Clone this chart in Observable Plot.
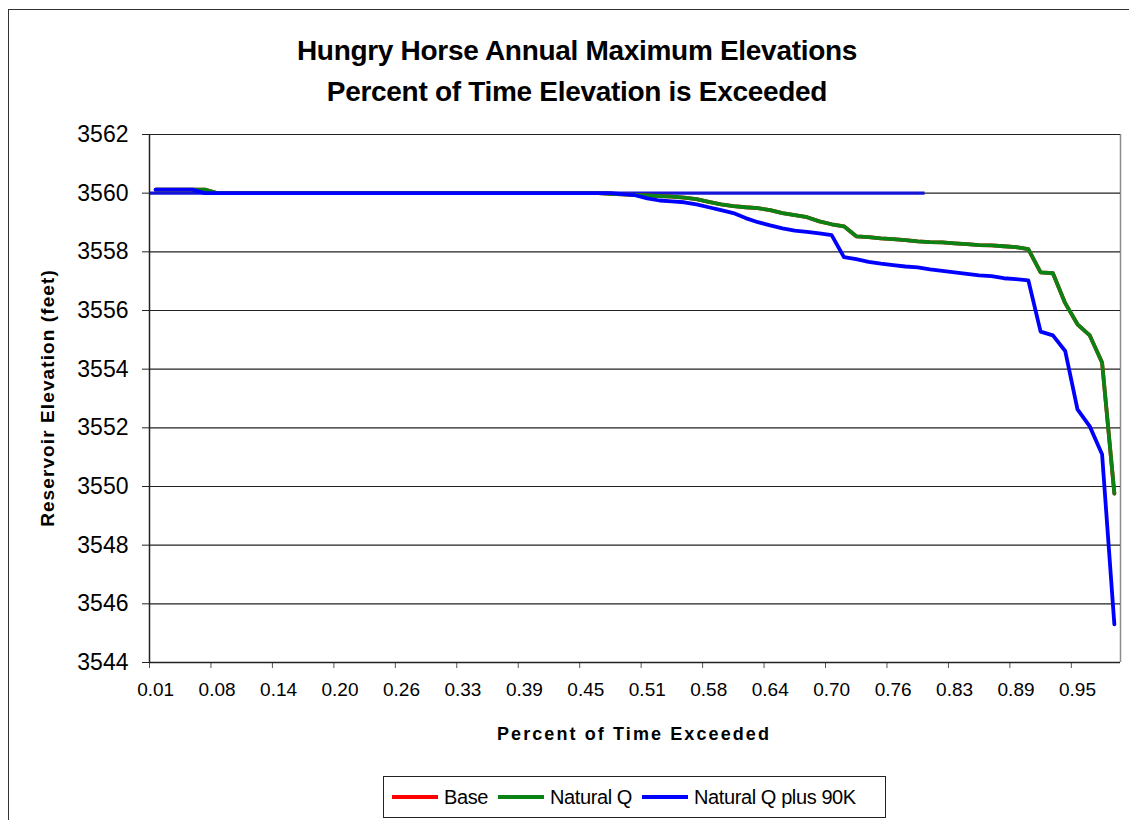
<!DOCTYPE html>
<html>
<head>
<meta charset="utf-8">
<script src="https://cdn.jsdelivr.net/npm/d3@7"></script>
<script src="https://cdn.jsdelivr.net/npm/@observablehq/plot@0.6"></script>
<style>
  body { margin: 0; background: #fff; font-family: "Liberation Sans", Arial, sans-serif; }
  #wrap { position: relative; width: 1129px; height: 820px; overflow: hidden; background: #fff; }
  #border { position: absolute; left: 8px; top: 9px; width: 1160px; height: 860px; border: 1.5px solid #333; box-sizing: border-box; }
  .title { position: absolute; left: 277px; width: 600px; text-align: center; font-weight: bold; font-size: 28px; line-height: 28px; letter-spacing: -0.3px; color: #000; white-space: nowrap; }
  #chart { position: absolute; left: 0; top: 0; }
  #ylab { position: absolute; left: 48px; top: 398px; transform: translate(-50%, -50%) rotate(-90deg); font-weight: bold; font-size: 19px; letter-spacing: 1.1px; white-space: nowrap; }
  #xlab { position: absolute; left: 634px; top: 724px; transform: translateX(-50%); font-weight: bold; font-size: 18px; letter-spacing: 2.1px; white-space: nowrap; }
  #legend { position: absolute; left: 383px; top: 776px; width: 503px; height: 42px; border: 1.5px solid #222; box-sizing: border-box; display: flex; align-items: center; padding-left: 8px; font-size: 20px; letter-spacing: -0.4px; }
  .sw { display: inline-block; width: 46px; height: 4px; margin: 0 6px 0 0; }
  .item { display: flex; align-items: center; margin-right: 10px; }
</style>
</head>
<body>
<div id="wrap">
  <div id="border"></div>
  <div class="title" style="top:37px">Hungry Horse Annual Maximum Elevations</div>
  <div class="title" style="top:78px">Percent of Time Elevation is Exceeded</div>
  <div id="chart"></div>
  <div id="ylab">Reservoir Elevation (feet)</div>
  <div id="xlab">Percent of Time Exceeded</div>
  <div id="legend"></div>
</div>
<script>
// ---- data ----
const seriesNames = ["Base", "Natural Q", "Natural Q plus 90K"];
const seriesColors = ["#ff0000", "#0a8214", "#0000ff"];

// exceedance rank of each year (79 years, plotting position rank/80)
const rank = d3.range(1, 80);

const xTickLabels = ["0.01","0.08","0.14","0.20","0.26","0.33","0.39","0.45",
                     "0.51","0.58","0.64","0.70","0.76","0.83","0.89","0.95"];
const yTicks = [3544,3546,3548,3550,3552,3554,3556,3558,3560,3562];

const naturalQ = [
  3560.12,3560.12,3560.12,3560.12,3560.12,
  3560,3560,3560,3560,3560,3560,3560,3560,3560,3560,
  3560,3560,3560,3560,3560,3560,3560,3560,3560,3560,
  3560,3560,3560,3560,3560,3560,3560,3560,3560,3560,
  3560,3560,
  3559.98,3559.96,3559.94,3559.92,3559.90,3559.88,3559.85,3559.80,3559.70,3559.62,
  3559.56,3559.52,3559.49,3559.42,3559.32,3559.25,3559.18,3559.04,3558.94,3558.87,
  3558.53,3558.50,3558.46,3558.43,3558.40,3558.36,3558.33,3558.32,3558.29,3558.26,
  3558.23,3558.22,3558.19,3558.16,3558.09,3557.30,3557.27,3556.25,3555.53,3555.15,
  3554.23,3549.76
];
const base = naturalQ.slice();
const naturalQPlus90K = [
  3560.12,3560.12,3560.12,3560.12,
  3560,3560,3560,3560,3560,3560,3560,3560,3560,3560,
  3560,3560,3560,3560,3560,3560,3560,3560,3560,3560,
  3560,3560,3560,3560,3560,3560,3560,3560,3560,3560,
  3560,3560,3560,3560,
  3559.97,3559.93,3559.82,3559.75,3559.72,3559.69,3559.62,3559.52,3559.42,3559.32,
  3559.15,3559.01,3558.90,3558.80,3558.72,3558.68,3558.63,3558.57,3557.82,3557.75,
  3557.66,3557.60,3557.55,3557.50,3557.47,3557.40,3557.35,3557.30,3557.25,3557.20,
  3557.17,3557.10,3557.07,3557.03,3555.28,3555.15,3554.62,3552.63,3552.05,3551.10,
  3545.30
];
// flat overlap of the series along the 3560 ft line (rank range)
const flatOverlap = [{elev: 3560, from: 0.5, to: 63.6}];

// ---- build ----
const rows = rank.map((r, k) => ({r, base: base[k], nat: naturalQ[k], plus: naturalQPlus90K[k]}));
const labelRanks = xTickLabels.map((_, j) => 1 + 5 * j);
const boundaries = xTickLabels.map((_, j) => 0.5 + 5 * j);
const gridY = yTicks.slice(1);

const chart = Plot.plot({
  width: 1129,
  height: 820,
  marginLeft: 149,
  marginRight: 9,
  marginTop: 134,
  marginBottom: 158,
  x: {domain: [0.5, 79.5]},
  y: {domain: [3544, 3562]},
  style: {fontFamily: '"Liberation Sans", Arial, sans-serif', background: "transparent", color: "#000", overflow: "visible"},
  marks: [
    Plot.ruleX([79.5], {stroke: "#8c8c8c", strokeWidth: 1.5}),
    Plot.ruleY(gridY, {stroke: "#222", strokeWidth: 1.2}),
    Plot.ruleY(flatOverlap, {y: "elev", x1: "from", x2: "to", stroke: "#1515d8", strokeWidth: 3.2}),
    Plot.line(rows, {x: "r", y: "base", stroke: seriesColors[0], strokeWidth: 3.8}),
    Plot.line(rows, {x: "r", y: "nat", stroke: seriesColors[1], strokeWidth: 3.8}),
    Plot.line(rows, {x: "r", y: "plus", stroke: seriesColors[2], strokeWidth: 3.8}),
    Plot.axisY({ticks: yTicks, tickSize: 7, tickPadding: 14, fontSize: 23, label: null, tickFormat: d => String(d), stroke: "#222"}),
    Plot.axisX({ticks: boundaries, tickSize: 6, tickFormat: () => "", label: null, stroke: "#555"}),
    Plot.axisX({ticks: labelRanks, tickSize: 0, tickPadding: 20, fontSize: 19, label: null, tickFormat: d => xTickLabels[(d - 1) / 5]}),
    Plot.ruleY([3544], {stroke: "#222", strokeWidth: 1.5}),
    Plot.ruleX([0.5], {stroke: "#222", strokeWidth: 1.5})
  ]
});
document.getElementById("chart").appendChild(chart);

// legend
const legend = document.getElementById("legend");
seriesNames.forEach((name, i) => {
  const it = document.createElement("div");
  it.className = "item";
  const sw = document.createElement("span");
  sw.className = "sw";
  sw.style.background = seriesColors[i];
  it.appendChild(sw);
  it.appendChild(document.createTextNode(name));
  legend.appendChild(it);
});
</script>
</body>
</html>
